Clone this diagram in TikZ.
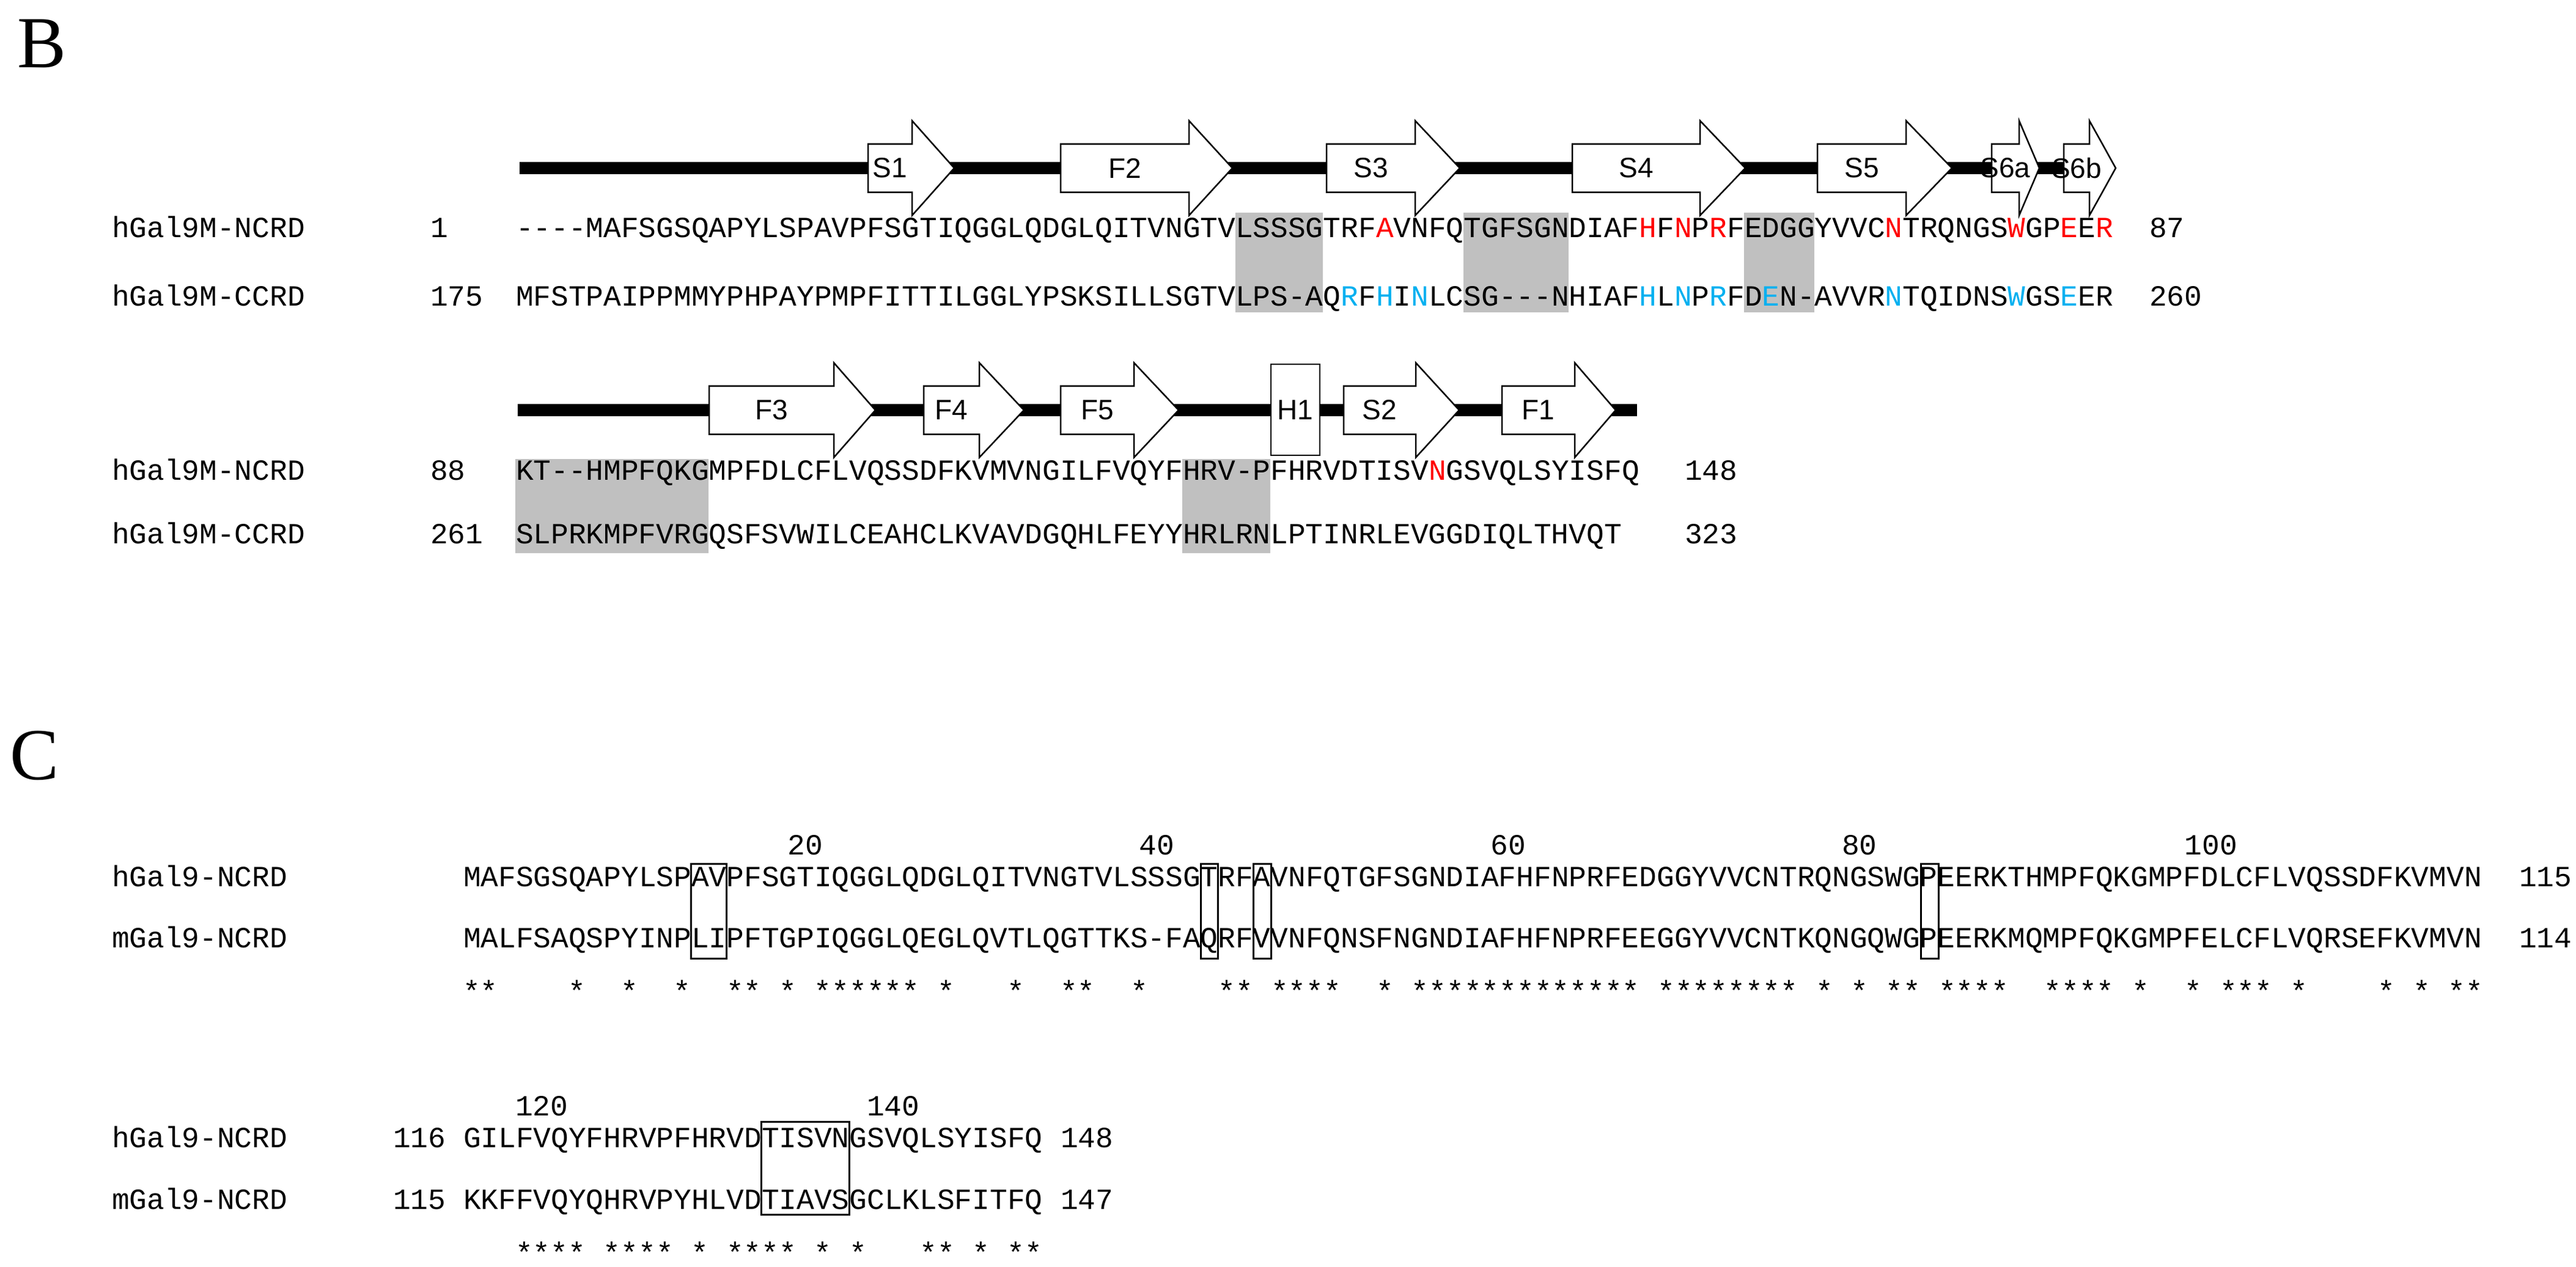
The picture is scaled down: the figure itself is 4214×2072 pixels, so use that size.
\documentclass[tikz,border=0pt]{standalone}
\usepackage{fontspec}
\setmainfont{Liberation Serif}
\setsansfont{Liberation Sans}
\setmonofont{Liberation Mono}
\definecolor{hred}{RGB}{255,0,0}
\definecolor{hblue}{RGB}{0,176,240}
\definecolor{hgray}{RGB}{192,192,192}
\newcommand\myR[1]{\textcolor{hred}{#1}}
\newcommand\myB[1]{\textcolor{hblue}{#1}}
\newcommand\betaarr[6]{%
  \draw[arr] (#2,#5-39.5) -- (#3,#5-39.5) -- (#3,#5-77.5) -- (#4,#5) -- (#3,#5+77.5) -- (#3,#5+39.5) -- (#2,#5+39.5) -- cycle;
  \node[lab] (#1) at ({(#2+#3)/2},#5) {#6};}
\begin{document}
\begin{tikzpicture}[x=0.2pt,y=-0.2pt,
  seq/.style={font=\ttfamily\fontsize{9.57}{10}\selectfont,inner sep=0,anchor=base west},
  num/.style={font=\ttfamily\fontsize{9.57}{10}\selectfont,inner sep=0,anchor=base},
  lab/.style={font=\sffamily\fontsize{9.2}{10}\selectfont,inner sep=0},
  panel/.style={font=\rmfamily\fontsize{24}{26}\selectfont,inner sep=0,anchor=base west},
  arr/.style={draw=black,fill=white,line width=0.5pt,line join=miter},
  bar/.style={line width=4pt},
  shade/.style={fill=hgray,draw=none},
  hbox/.style={draw=black,line width=0.6pt}]
\useasboundingbox (0,0) rectangle (4214,2072);
\fill[white] (0,0) rectangle (4214,2072);
% ---------------- Panel B ----------------
\node[panel] (B) at (28,110) {B};
% row 1 secondary structure
\draw[bar] (850,275) -- (3445,275);
\betaarr{s1}{1420}{1492}{1561}{275}{S1}
\betaarr{f2}{1735}{1945}{2016}{275}{F2}
\betaarr{s3}{2170}{2315}{2388}{275}{S3}
\betaarr{s4}{2572}{2781}{2855}{275}{S4}
\betaarr{s5}{2973}{3118}{3193}{275}{S5}
\betaarr{s6a}{3258}{3303}{3336}{275}{S6a}
\betaarr{s6b}{3376}{3418}{3461}{275}{S6b}
% gray shading row 1
\fill[shade] ({843+41*28.72},348) rectangle ({843+46*28.72},511);
\fill[shade] ({843+54*28.72},348) rectangle ({843+60*28.72},511);
\fill[shade] ({843+70*28.72},348) rectangle ({843+74*28.72},511);
\node[seq] (l1) at (182,388) {hGal9M-NCRD};
\node[seq] (n1) at (703,388) {1};
\node[seq] (q1) at (843,388) {----MAFSGSQAPYLSPAVPFSGTIQGGLQDGLQITVNGTVLSSSGTRF\myR{A}VNFQTGFSGNDIAF\myR{H}F\myR{N}P\myR{R}FEDGGYVVC\myR{N}TRQNGS\myR{W}GP\myR{E}E\myR{R}};
\node[seq] (e1) at (3515,388) {87};
\node[seq] (l2) at (182,500) {hGal9M-CCRD};
\node[seq] (n2) at (703,500) {175};
\node[seq] (q2) at (843,500) {MFSTPAIPPMMYPHPAYPMPFITTILGGLYPSKSILLSGTVLPS-AQ\myB{R}F\myB{H}I\myB{N}LCSG---NHIAF\myB{H}L\myB{N}P\myB{R}FD\myB{E}N-AVVR\myB{N}TQIDNS\myB{W}GS\myB{E}ER};
\node[seq] (e2) at (3515,500) {260};
% row 2 secondary structure
\draw[bar] (847,671) -- (2678,671);
\betaarr{f3}{1160}{1364}{1432}{671}{F3}
\betaarr{f4}{1511}{1602}{1675}{671}{F4}
\betaarr{f5}{1735}{1855}{1928}{671}{F5}
\draw[arr] (2079,596) rectangle (2159,745);
\node[lab] (h1) at (2119,671) {H1};
\betaarr{s2}{2198}{2316}{2387}{671}{S2}
\betaarr{f1}{2457}{2576}{2643}{671}{F1}
\fill[shade] (843,751) rectangle ({843+11*28.72},905);
\fill[shade] ({843+38*28.72},751) rectangle ({843+43*28.72},905);
\node[seq] (l3) at (182,785) {hGal9M-NCRD};
\node[seq] (n3) at (703,785) {88};
\node[seq] (q3) at (843,785) {KT--HMPFQKGMPFDLCFLVQSSDFKVMVNGILFVQYFHRV-PFHRVDTISV\myR{N}GSVQLSYISFQ};
\node[seq] (e3) at (2755,785) {148};
\node[seq] (l4) at (182,889) {hGal9M-CCRD};
\node[seq] (n4) at (703,889) {261};
\node[seq] (q4) at (843,889) {SLPRKMPFVRGQSFSVWILCEAHCLKVAVDGQHLFEYYHRLRNLPTINRLEVGGDIQLTHVQT};
\node[seq] (e4) at (2755,889) {323};
% ---------------- Panel C ----------------
\node[panel] (C) at (16,1275) {C};
\foreach \n/\c in {20/20,40/40,60/60,80/80,100/100}
  \node[num] (t\n) at ({757+(\c-0.5)*28.74},1398) {\n};
\node[seq] (l5) at (182,1450) {hGal9-NCRD};
\node[seq] (q5) at (757,1450) {MAFSGSQAPYLSPAVPFSGTIQGGLQDGLQITVNGTVLSSSGTRFAVNFQTGFSGNDIAFHFNPRFEDGGYVVCNTRQNGSWGPEERKTHMPFQKGMPFDLCFLVQSSDFKVMVN};
\node[seq] (e5) at (4120,1450) {115};
\node[seq] (l6) at (182,1550) {mGal9-NCRD};
\node[seq] (q6) at (757,1550) {MALFSAQSPYINPLIPFTGPIQGGLQEGLQVTLQGTTKS-FAQRFVVNFQNSFNGNDIAFHFNPRFEEGGYVVCNTKQNGQWGPEERKMQMPFQKGMPFELCFLVQRSEFKVMVN};
\node[seq] (e6) at (4120,1550) {114};
\draw[hbox] ({757+13*28.74},1413) rectangle ({757+15*28.74},1568);
\draw[hbox] ({757+42*28.74},1413) rectangle ({757+43*28.74},1568);
\draw[hbox] ({757+45*28.74},1413) rectangle ({757+46*28.74},1568);
\draw[hbox] ({757+83*28.74},1413) rectangle ({757+84*28.74},1568);
\foreach \c in {1,2,7,10,13,16,17,19,21,22,23,24,25,26,28,32,35,36,39,44,45,47,48,49,50,53,55,56,57,58,59,60,61,62,63,64,65,66,67,69,70,71,72,73,74,75,76,78,80,82,83,85,86,87,88,91,92,93,94,96,99,101,102,103,105,110,112,114,115}
  \node[num] (a\c) at ({757+(\c-0.5)*28.74},1638) {*};
% block 2
\node[num] (t120) at ({757+4.5*28.74},1825) {120};
\node[num] (t140) at ({757+24.5*28.74},1825) {140};
\node[seq] (l7) at (182,1877) {hGal9-NCRD};
\node[seq] (n7) at (642,1877) {116};
\node[seq] (q7) at (757,1877) {GILFVQYFHRVPFHRVDTISVNGSVQLSYISFQ};
\node[seq] (e7) at ({757+34*28.74},1877) {148};
\node[seq] (l8) at (182,1978) {mGal9-NCRD};
\node[seq] (n8) at (642,1978) {115};
\node[seq] (q8) at (757,1978) {KKFFVQYQHRVPYHLVDTIAVSGCLKLSFITFQ};
\node[seq] (e8) at ({757+34*28.74},1978) {147};
\draw[hbox] ({757+17*28.74},1835) rectangle ({757+22*28.74},1987);
\foreach \c in {4,5,6,7,9,10,11,12,14,16,17,18,19,21,23,27,28,30,32,33}
  \node[num] (b\c) at ({757+(\c-0.5)*28.74},2066) {*};
\end{tikzpicture}
\end{document}
